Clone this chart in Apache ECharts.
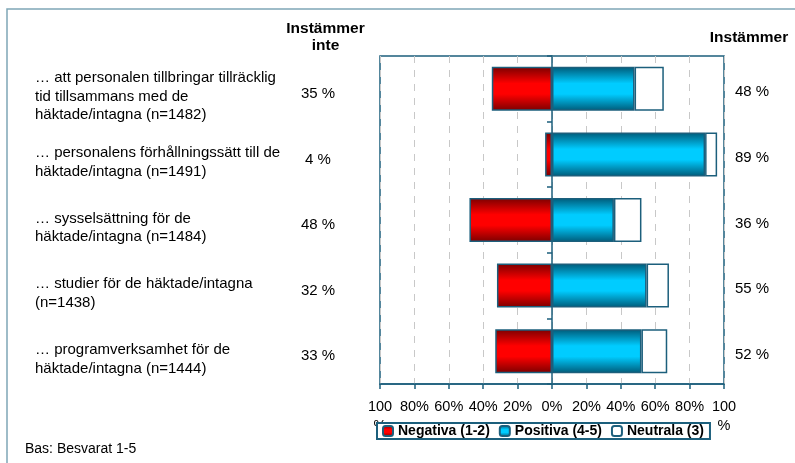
<!DOCTYPE html>
<html>
<head>
<meta charset="utf-8">
<script src="https://cdn.jsdelivr.net/npm/echarts@6/dist/echarts.min.js"></script>
<style>
  html, body { margin: 0; padding: 0; background: #fff; }
  #main { width: 795px; height: 463px; }
</style>
</head>
<body>
<div id="main"></div>
<script>
// frågor (kategorier)
var categories = [
  '… att personalen tillbringar tillräcklig\ntid tillsammans med de\nhäktade/intagna (n=1482)',
  '… personalens förhållningssätt till de\nhäktade/intagna (n=1491)',
  '… sysselsättning för de\nhäktade/intagna (n=1484)',
  '… studier för de häktade/intagna\n(n=1438)',
  '… programverksamhet för de\nhäktade/intagna (n=1444)'
]
// andelar i procent
var negativa = [35, 4, 48, 32, 33]
var positiva = [48, 89, 36, 55, 52]
var neutrala = [17, 7, 16, 13, 15]

var teal = '#1C5F7C'
var fontFam = 'Liberation Sans, Arial, sans-serif'

function grad(edge, mid) {
  return new echarts.graphic.LinearGradient(0, 0, 0, 1, [
    {offset: 0, color: edge},
    {offset: 0.38, color: mid},
    {offset: 0.62, color: mid},
    {offset: 1, color: edge}
  ])
}

// etikett med tom rad överst för att flytta ner texten lite
function shifted(text) {
  return '{s| }\n' + text.split('\n').map(function (l) { return '{t|' + l + '}' }).join('\n')
}

var chart = echarts.init(document.getElementById('main'))

var option = {
  animation: false,
  textStyle: {fontFamily: fontFam, color: '#000'},
  grid: {
    left: 380, right: 71, top: 56, bottom: 79,
    show: true, borderColor: teal, borderWidth: 1.5
  },
  legend: {
    left: 377, top: 423,
    padding: [1, 6, 1, 5],
    itemGap: 9,
    itemWidth: 10, itemHeight: 10,
    borderColor: teal, borderWidth: 2,
    backgroundColor: '#fff',
    textStyle: {fontFamily: fontFam, fontSize: 14, fontWeight: 'bold', color: '#000'},
    data: ['Negativa (1-2)', 'Positiva (4-5)', 'Neutrala (3)']
  },
  xAxis: {
    type: 'value',
    min: -100, max: 100, interval: 20,
    axisLine: {show: true, lineStyle: {color: teal, width: 1.5}},
    axisTick: {show: true, length: 5, lineStyle: {color: teal, width: 1.5}},
    axisLabel: {
      fontSize: 14.5, margin: 13, lineHeight: 19, color: '#000',
      formatter: function (v) {
        var a = Math.abs(v)
        return a === 100 ? '100\n%' : a + '%'
      }
    },
    splitLine: {show: true, lineStyle: {color: '#C8C8C8', type: [7, 7], width: 1}}
  },
  yAxis: [
    {
      // nollinjen med skiljestreck
      type: 'category', inverse: true, data: categories,
      axisLine: {show: true, onZero: true, lineStyle: {color: teal, width: 1.5}},
      axisTick: {show: true, length: 5, lineStyle: {color: teal, width: 1.5}},
      axisLabel: {show: false},
      splitLine: {show: false}
    },
    {
      // frågetexter
      type: 'category', inverse: true, data: categories, position: 'left',
      axisLine: {show: false, onZero: false}, axisTick: {show: false},
      axisLabel: {
        align: 'left', margin: 345, color: '#000',
        formatter: function (v) { return shifted(v) },
        rich: {
          s: {fontSize: 1, lineHeight: 16},
          t: {fontSize: 15, lineHeight: 18.5, fontFamily: fontFam, color: '#000'}
        }
      }
    },
    {
      // instämmer inte
      type: 'category', inverse: true, data: negativa.map(function (v) { return v + ' %' }), position: 'left',
      axisLine: {show: false, onZero: false}, axisTick: {show: false},
      axisLabel: {
        align: 'center', margin: 62, color: '#000',
        formatter: function (v) { return shifted(v) },
        rich: {
          s: {fontSize: 1, lineHeight: 10},
          t: {fontSize: 15, lineHeight: 18, fontFamily: fontFam, color: '#000'}
        }
      }
    },
    {
      // instämmer
      type: 'category', inverse: true, data: positiva.map(function (v) { return v + ' %' }), position: 'right',
      axisLine: {show: false, onZero: false}, axisTick: {show: false},
      axisLabel: {
        align: 'left', margin: 11, color: '#000',
        formatter: function (v) { return shifted(v) },
        rich: {
          s: {fontSize: 1, lineHeight: 7},
          t: {fontSize: 15, lineHeight: 18, fontFamily: fontFam, color: '#000'}
        }
      }
    }
  ],
  series: [
    {
      name: 'Negativa (1-2)', type: 'bar', stack: 'tot', barWidth: '67%',
      data: negativa.map(function (v) { return -v }),
      itemStyle: {color: grad('#7A0000', '#FF0000'), borderColor: teal, borderWidth: 1.5}
    },
    {
      name: 'Positiva (4-5)', type: 'bar', stack: 'tot',
      data: positiva,
      itemStyle: {color: grad('#005A78', '#00CCFF'), borderColor: teal, borderWidth: 1.5}
    },
    {
      name: 'Neutrala (3)', type: 'bar', stack: 'tot',
      data: neutrala,
      itemStyle: {color: '#fff', borderColor: teal, borderWidth: 1.5}
    }
  ],
  graphic: [
    {
      type: 'rect', z: -10, silent: true,
      shape: {x: 7, y: 9, width: 820, height: 500},
      style: {fill: 'none', stroke: '#7FA6B6', lineWidth: 1.5}
    },
    {
      type: 'text', x: 325.5, y: 37,
      style: {text: 'Instämmer\ninte', align: 'center', verticalAlign: 'middle', fontSize: 15.5, fontWeight: 'bold', lineHeight: 16.5, fontFamily: fontFam, fill: '#000'}
    },
    {
      type: 'text', x: 749, y: 38,
      style: {text: 'Instämmer', align: 'center', verticalAlign: 'middle', fontSize: 15.5, fontWeight: 'bold', fontFamily: fontFam, fill: '#000'}
    },
    {
      type: 'text', x: 25, y: 449,
      style: {text: 'Bas: Besvarat 1-5', verticalAlign: 'middle', fontSize: 14, fontFamily: fontFam, fill: '#000'}
    }
  ]
}

chart.setOption(option)
</script>
</body>
</html>
